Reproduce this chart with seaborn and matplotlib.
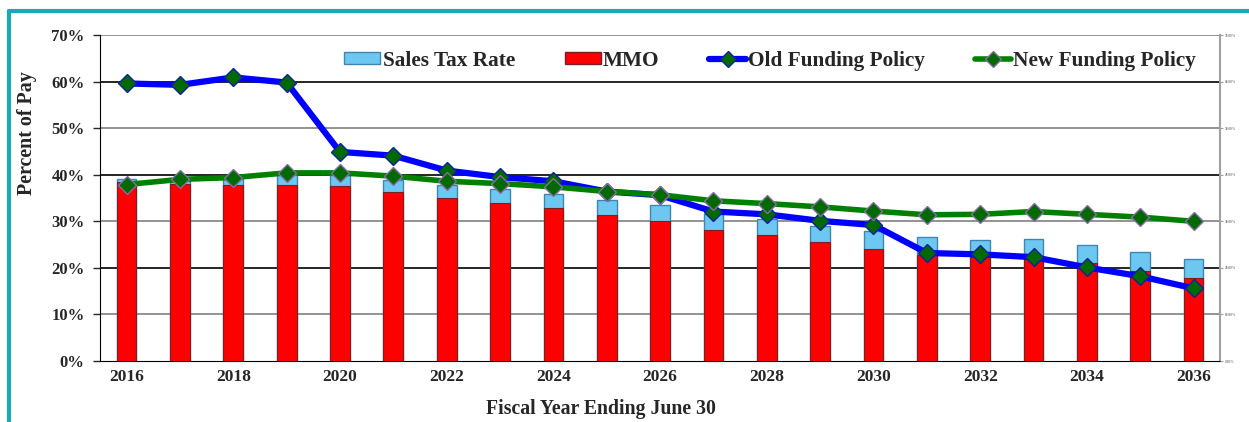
import matplotlib
matplotlib.use('Agg')
import matplotlib.pyplot as plt
import seaborn as sns
import numpy as np
from matplotlib.lines import Line2D
from matplotlib.patches import Patch

years = list(range(2016, 2037))
mmo = [38.4, 38.1, 37.9, 37.8, 37.5, 36.3, 35.0, 33.9, 32.8, 31.4, 30.1,
       28.2, 27.0, 25.6, 24.1, 22.8, 22.4, 22.3, 21.0, 19.4, 17.9]
sales_tax = [0.6, 0.5, 1.2, 2.3, 2.4, 2.6, 2.9, 3.1, 3.0, 3.2, 3.4,
             3.4, 3.4, 3.5, 3.8, 3.8, 3.6, 3.8, 3.9, 4.1, 4.0]
old_policy = [59.6, 59.3, 60.9, 59.8, 44.9, 44.1, 40.9, 39.5, 38.6, 36.4, 35.6,
              32.1, 31.5, 30.1, 29.2, 23.2, 22.9, 22.3, 20.1, 18.2, 15.6]
new_policy = [37.9, 39.0, 39.4, 40.4, 40.4, 39.7, 38.6, 38.1, 37.4, 36.4, 35.7,
              34.4, 33.8, 33.1, 32.2, 31.4, 31.5, 32.1, 31.5, 30.9, 30.0]
y_ticks = [0, 10, 20, 30, 40, 50, 60, 70]

sns.set_style('white')
plt.rcParams['font.family'] = ['Liberation Serif', 'DejaVu Serif']
plt.rcParams['font.weight'] = 'bold'

fig = plt.figure(figsize=(12.49, 4.22), dpi=100)
ax = fig.add_axes([0.080, 0.1445, 0.897, 0.7725])

total = [m + s for m, s in zip(mmo, sales_tax)]
labels = [str(y) for y in years]

# stacked bars: full height in light blue, MMO in red on top of it
sns.barplot(x=labels, y=total, color='#6CC8F0', width=0.37, saturation=1,
            edgecolor='#3F86B3', linewidth=1.0, ax=ax, zorder=2)
sns.barplot(x=labels, y=mmo, color='#FF0000', width=0.37, saturation=1,
            edgecolor='#7A2020', linewidth=0.8, ax=ax, zorder=3)

pos = np.arange(len(years))
sns.lineplot(x=pos, y=old_policy, color='#0000FF', linewidth=4.5, marker='D',
             markersize=9, markerfacecolor='#006A00', markeredgecolor='#1020A0',
             markeredgewidth=1.0, ax=ax, zorder=5)
sns.lineplot(x=pos, y=new_policy, color='#008000', linewidth=4.0, marker='D',
             markersize=9, markerfacecolor='#006A00', markeredgecolor='#8A6AAA',
             markeredgewidth=1.0, ax=ax, zorder=6)

for v in y_ticks[1:]:
    c = '#000000' if v % 20 == 0 else '#808080'
    ax.axhline(v, color=c, linewidth=1.2, zorder=1)

ax.set_xlim(-0.5, len(years) - 0.5)
ax.set_ylim(0, 70)
ax.set_yticks(y_ticks)
ax.set_yticklabels([f'{v}%' for v in y_ticks], fontsize=12, fontweight='bold')
ax.set_xticks(pos)
ax.set_xticklabels([l if i % 2 == 0 else '' for i, l in enumerate(labels)],
                   fontsize=12.5, fontweight='bold')
ax.tick_params(axis='x', length=0, pad=6)
ax.tick_params(axis='y', length=5, width=1, direction='out', left=True, pad=6)

ax.spines['top'].set_visible(False)
ax.spines['left'].set_color('black')
ax.spines['bottom'].set_color('black')
ax.spines['right'].set_color('#A0A0A0')
ax.spines['right'].set_linewidth(1.5)

ax.set_ylabel('Percent of Pay', fontsize=14.4, fontweight='bold')
ax.yaxis.set_label_coords(-0.056, 0.70)
ax.set_xlabel('Fiscal Year Ending June 30', fontsize=14.2, fontweight='bold')
ax.xaxis.set_label_coords(0.447, -0.118)

ax2 = ax.twinx()
ax2.set_ylim(0, 70)
ax2.set_yticks(y_ticks)
ax2.set_yticklabels([f'{v:.2f}%' for v in y_ticks], fontsize=2.5, color='#808080')
ax2.tick_params(axis='y', length=2, color='#A0A0A0', pad=1)
for s in ax2.spines.values():
    s.set_visible(False)

handles = [
    Patch(facecolor='#6CC8F0', edgecolor='#3F86B3', label='Sales Tax Rate'),
    Patch(facecolor='#FF0000', edgecolor='#7A2020', label='MMO'),
    Line2D([], [], color='#0000FF', linewidth=4.5, marker='D', markersize=8,
           markerfacecolor='#006A00', markeredgecolor='#1020A0', label='Old Funding Policy'),
    Line2D([], [], color='#008000', linewidth=4.0, marker='D', markersize=8,
           markerfacecolor='#006A00', markeredgecolor='#8A6AAA', label='New Funding Policy'),
]
ax.legend(handles=handles, loc='upper right', bbox_to_anchor=(0.995, 1.01), ncol=4,
          frameon=False, prop={'size': 15.3, 'weight': 'bold'}, handlelength=1.7,
          handleheight=0.5, handletextpad=0.1, columnspacing=2.35)

# teal frame round the picture
fig.add_artist(Line2D([0.0075, 1.0], [0.9745, 0.9745], color='#1AA9B8', linewidth=3))
fig.add_artist(Line2D([0.0075, 0.0075], [0.0, 0.9745], color='#1AA9B8', linewidth=3))

fig.savefig('out.png', dpi=100)
